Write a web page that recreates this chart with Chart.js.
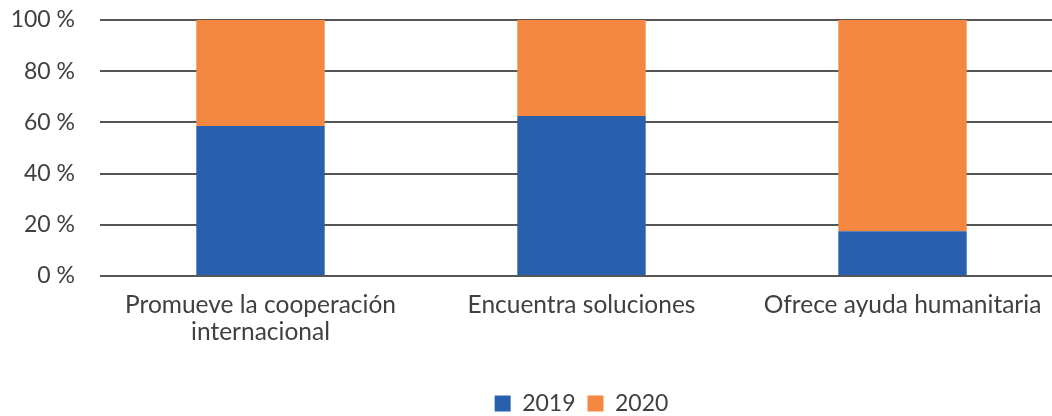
<!DOCTYPE html>
<html>
<head>
<meta charset="utf-8">
<script src="https://cdn.jsdelivr.net/npm/chart.js@4"></script>
<style>
  html, body { margin: 0; padding: 0; background: #fff; overflow: hidden; }
  #wrap { width: 1052px; height: 416px; overflow: hidden; }
</style>
</head>
<body>
<div id="wrap"><canvas id="chart" width="1063" height="425"></canvas></div>
<script>
// categorías y valores (%)
const categories = [["Promueve la cooperación", "internacional"], "Encuentra soluciones", "Ofrece ayuda humanitaria"];
const values2019 = [58.6, 62.5, 17.5];
const values2020 = [41.4, 37.5, 82.5];
const yTicks = [0, 20, 40, 60, 80, 100];

const textColor = "#404040";
const fontFamily = "Lato, 'Open Sans', sans-serif";

const ctx = document.getElementById("chart").getContext("2d");
new Chart(ctx, {
  type: "bar",
  data: {
    labels: categories,
    datasets: [
      {
        label: "2019",
        data: values2019,
        backgroundColor: "#2860ad",
        categoryPercentage: 1,
        barPercentage: 0.4,
      },
      {
        label: "2020",
        data: values2020,
        backgroundColor: "#f48840",
        categoryPercentage: 1,
        barPercentage: 0.4,
      },
    ],
  },
  options: {
    responsive: false,
    animation: false,
    layout: { padding: { top: 20, right: 0, left: 0, bottom: 0 } },
    plugins: {
      legend: {
        display: true,
        position: "bottom",
        fullSize: false,
        labels: {
          color: textColor,
          font: { family: fontFamily, size: 23 },
          boxWidth: 16,
          boxHeight: 16,
          padding: 12,
        },
      },
      tooltip: { enabled: false },
    },
    scales: {
      x: {
        stacked: true,
        grid: { display: false },
        border: { display: false },
        ticks: {
          color: textColor,
          font: { family: fontFamily, size: 24.5, lineHeight: 1.12 },
          padding: 7,
          maxRotation: 0,
        },
        afterFit: (scale) => { scale.height = 104; },
      },
      y: {
        stacked: true,
        min: 0,
        max: 100,
        afterBuildTicks: (scale) => { scale.ticks = yTicks.map((v) => ({ value: v })); },
        grid: { color: "#555555", lineWidth: 2, drawTicks: false },
        border: { display: false },
        ticks: {
          color: textColor,
          font: { family: fontFamily, size: 23 },
          padding: 25,
          callback: (v) => v + " %",
        },
        afterFit: (scale) => {
          scale.width = 100;
          scale.paddingTop = 12;
          scale.paddingBottom = 12;
        },
      },
    },
  },
});
</script>
</body>
</html>
